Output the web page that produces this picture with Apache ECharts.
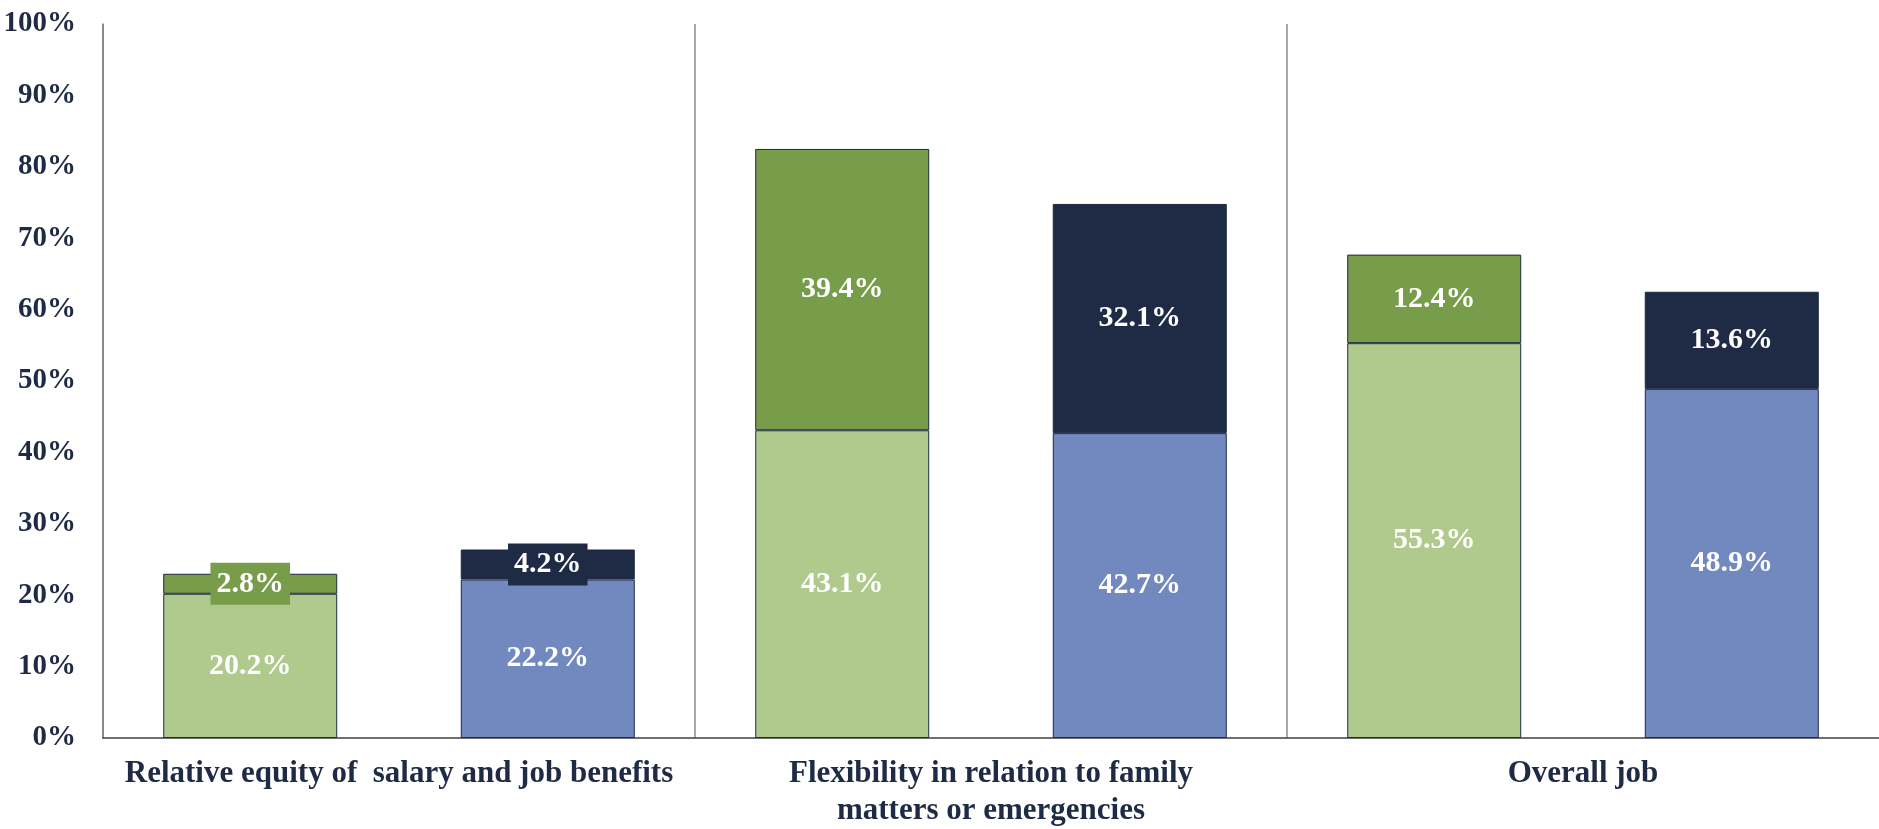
<!DOCTYPE html>
<html>
<head>
<meta charset="utf-8">
<style>
  html, body { margin: 0; padding: 0; background: #fff; }
  #chart { width: 1879px; height: 829px; }
</style>
<script src="https://cdn.jsdelivr.net/npm/echarts@6/dist/echarts.min.js"></script>
</head>
<body>
<div id="chart"></div>
<script>
var categories = [
  'Relative equity of  salary and job benefits',
  'Flexibility in relation to family\nmatters or emergencies',
  'Overall job'
];
var greenBase = [20.2, 43.1, 55.3];
var greenTop = [2.8, 39.4, 12.4];
var blueBase = [22.2, 42.7, 48.9];
var blueTop = [4.2, 32.1, 13.6];
var yTicks = [0, 100, 10];

var navy = '#1f2a44';
var font = '"Liberation Serif", "DejaVu Serif", serif';
var sep = '#8c8c8c';

// one stacked segment; the small top ones get a box in the bar colour
function seg(name, stack, data, color, boxed) {
  return {
    name: name,
    type: 'bar',
    stack: stack,
    data: data,
    barWidth: 174,
    barGap: '71%',
    itemStyle: { color: color, borderColor: navy, borderWidth: 1 },
    label: {
      show: true,
      position: 'inside',
      color: '#fff',
      fontFamily: font,
      fontWeight: 'bold',
      fontSize: 30,
      formatter: function (p) { return p.value.toFixed(1) + '%'; },
      backgroundColor: boxed ? color : 'transparent',
      padding: boxed ? [7, 6, 5, 6] : 0
    }
  };
}

var chart = echarts.init(document.getElementById('chart'));
chart.setOption({
  animation: false,
  grid: { left: 103, right: 0, top: 24, bottom: 88 },
  xAxis: {
    type: 'category',
    data: categories,
    axisLine: { lineStyle: { color: '#404040', width: 1.5 } },
    axisTick: { show: false },
    splitLine: {
      show: true,
      interval: 0,
      // no separator at the right edge
      lineStyle: { color: [sep, sep, sep, 'rgba(0,0,0,0)'], width: 1.5 }
    },
    axisLabel: {
      interval: 0,
      margin: 17,
      color: navy,
      fontFamily: font,
      fontWeight: 'bold',
      fontSize: 31,
      lineHeight: 37
    }
  },
  yAxis: {
    type: 'value',
    min: yTicks[0],
    max: yTicks[1],
    interval: yTicks[2],
    axisLine: { show: true, lineStyle: { color: '#808080', width: 1.5 } },
    axisTick: { show: false },
    splitLine: { show: false },
    axisLabel: {
      margin: 27,
      color: navy,
      fontFamily: font,
      fontWeight: 'bold',
      fontSize: 29,
      formatter: '{value}%'
    }
  },
  series: [
    seg('Green base', 'g', greenBase, '#b0c98d', false),
    seg('Green top', 'g', greenTop, '#779c4a', true),
    seg('Blue base', 'b', blueBase, '#7289c0', false),
    seg('Blue top', 'b', blueTop, navy, true)
  ]
});
</script>
</body>
</html>
